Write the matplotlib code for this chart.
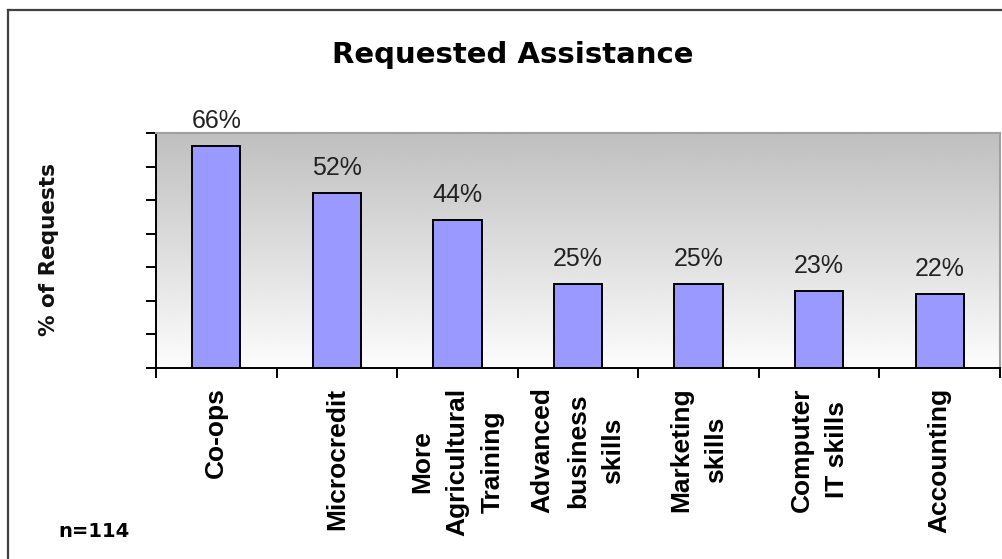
import matplotlib
matplotlib.use("Agg")
import matplotlib.pyplot as plt
import numpy as np
from matplotlib import font_manager
from matplotlib.lines import Line2D

categories = ["Co-ops", "Microcredit", "More\nAgricultural\nTraining",
              "Advanced\nbusiness\nskills", "Marketing\nskills",
              "Computer\nIT skills", "Accounting"]
values = [66, 52, 44, 25, 25, 23, 22]
y_ticks = [0, 10, 20, 30, 40, 50, 60, 70]

W, H = 1003, 559
fig = plt.figure(figsize=(W / 100, H / 100), dpi=100)
fig.patch.set_facecolor("white")

installed = {f.name for f in font_manager.fontManager.ttflist}
narrow = "Liberation Sans Narrow" if "Liberation Sans Narrow" in installed else "Liberation Sans"

# plot area in pixel terms
left, right, top, bottom = 156, 1000, 133, 368
ax = fig.add_axes([left / W, 1 - bottom / H, (right - left) / W, (bottom - top) / H])

# grey-to-white vertical gradient behind the bars
grad = np.linspace(0.75, 0.99, 256).reshape(-1, 1)
ax.imshow(grad, cmap="gray", vmin=0, vmax=1, aspect="auto",
          extent=[0, 1, 0, 1], transform=ax.transAxes, zorder=0,
          interpolation="bicubic", origin="upper")

x = np.arange(len(categories))
ax.bar(x, values, width=0.4, color="#9999ff", edgecolor="black",
       linewidth=1.4, zorder=2)

for xi, v in zip(x, values):
    ax.annotate(f"{v}%", (xi, v), xytext=(0, 13), textcoords="offset points",
                ha="center", va="baseline", fontsize=18, family=narrow,
                color="#222222", zorder=3)

ax.set_xlim(-0.5, len(categories) - 0.5)
ax.set_ylim(y_ticks[0], y_ticks[-1])
ax.set_yticks(y_ticks)
ax.set_yticklabels([])
ax.set_xticks(np.arange(-0.5, len(categories), 1.0))
ax.set_xticklabels([])
ax.set_xticks(x, categories, minor=True)
ax.tick_params(axis="both", which="major", direction="out", length=7,
               width=1.4, color="black")
ax.tick_params(axis="x", which="minor", length=0, pad=14)
for lbl in ax.get_xticklabels(minor=True):
    lbl.set_rotation(90)
    lbl.set_ha("center")
    lbl.set_va("top")
    lbl.set_multialignment("center")
    lbl.set_fontsize(19)
    lbl.set_fontweight("bold")
    lbl.set_family("Liberation Sans")
    lbl.set_linespacing(1.6)

for side in ("left", "bottom"):
    ax.spines[side].set_color("black")
    ax.spines[side].set_linewidth(1.4)
for side in ("top", "right"):
    ax.spines[side].set_color("#a0a0a0")
    ax.spines[side].set_linewidth(1.5)

# titles and annotations
fig.text(513 / W, 1 - 63 / H, "Requested Assistance", ha="center",
         va="baseline", fontsize=21, fontweight="bold", family="DejaVu Sans")
fig.text(49 / W, 1 - 250 / H, "% of Requests", rotation=90, ha="center",
         va="center", fontsize=15.5, fontweight="bold", family="DejaVu Sans",
         color="#111111")
fig.text(58 / W, 1 - 537 / H, "n=114", ha="left", va="baseline",
         fontsize=14, fontweight="bold", family="DejaVu Sans")

# outer chart frame (top and left edges visible)
fig.add_artist(Line2D([8 / W, 1.0], [1 - 10 / H, 1 - 10 / H],
                      transform=fig.transFigure, color="#404040", lw=1.6))
fig.add_artist(Line2D([8 / W, 8 / W], [1 - 10 / H, 0.0],
                      transform=fig.transFigure, color="#404040", lw=1.6))

fig.savefig("out.png", dpi=100)
